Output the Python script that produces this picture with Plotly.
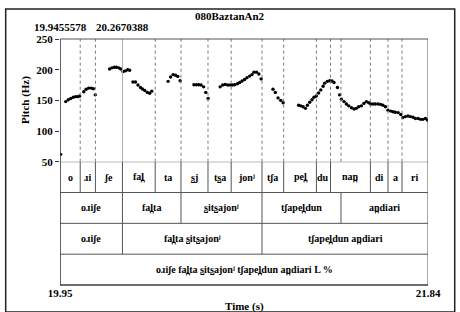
import plotly.graph_objects as go

# ---------------- data ----------------
T_START = 19.9455578
T_CURSOR = 20.2670388
T_END = 21.84
START_LABEL = "19.95"
END_LABEL = "21.84"
TITLE = "080BaztanAn2"
X_TITLE = "Time (s)"
Y_TITLE = "Pitch (Hz)"

PITCH_TICKS = [50, 100, 150, 200, 250]

TIME = [19.949, 19.975, 19.988, 20.001, 20.014, 20.026, 20.037, 20.047,
        20.068, 20.080, 20.093, 20.106, 20.117, 20.127,
        20.201, 20.213, 20.225, 20.236, 20.248, 20.258,
        20.270, 20.282, 20.294, 20.304, 20.321, 20.334, 20.347, 20.360, 20.370, 20.382, 20.395, 20.407, 20.418,
        20.502, 20.515, 20.528, 20.540, 20.552, 20.564,
        20.635, 20.648, 20.660, 20.672, 20.685, 20.696, 20.708,
        20.770, 20.783, 20.796, 20.809, 20.822,
        20.833, 20.845, 20.859, 20.871, 20.883, 20.896, 20.908, 20.922, 20.934, 20.944, 20.957, 20.969, 20.981,
        21.042, 21.054, 21.068, 21.082, 21.094,
        21.174, 21.185, 21.197, 21.209, 21.219, 21.231, 21.243, 21.253, 21.265, 21.277, 21.288, 21.300, 21.308,
        21.322, 21.334, 21.346, 21.356, 21.374, 21.385, 21.394, 21.408, 21.420, 21.432, 21.446, 21.459, 21.471,
        21.483, 21.497, 21.510, 21.523, 21.535, 21.545, 21.557, 21.569, 21.583, 21.596, 21.608, 21.621, 21.634,
        21.648, 21.660, 21.672, 21.686, 21.700, 21.711, 21.724, 21.737, 21.749, 21.763, 21.775, 21.789, 21.802,
        21.814, 21.827, 21.837]
PITCH = [62, 148, 151, 153, 155, 156, 156, 157,
         164, 168, 170, 170, 169, 159,
         201, 203, 204, 204, 203, 201,
         197, 198, 200, 199, 180, 180, 175, 171, 168.5, 166, 163, 161.5, 165,
         181, 188, 192, 191, 189, 182,
         175.5, 175.5, 175.5, 175, 172, 163, 153,
         172, 175, 176, 175, 175,
         175, 175.5, 177, 179, 181.5, 184, 187, 189.5, 192, 196, 196, 193, 185,
         168, 163, 154, 150, 146,
         142, 141, 139.5, 137, 142, 147, 151, 155, 157, 162, 167, 173, 178,
         181, 182, 181.5, 179, 171, 159, 152, 148, 144, 141, 138, 136, 137,
         139.5, 141, 145, 148, 146, 144, 144, 144, 144, 143.5, 142, 139.5, 134,
         132.5, 131.5, 130.5, 130, 127, 122, 123.5, 124.5, 123.5, 122.5, 120.5, 120.5, 119,
         119, 120.5, 118]

SYL_BOUNDS = [20.0496, 20.1278, 20.2670388, 20.4356, 20.5684, 20.7074, 20.8268,
              20.9854, 21.0971, 21.2655, 21.3381, 21.5435, 21.6341, 21.7061]
SYL_LABELS = ["o", "ɹi", "ʃe", "fal̪", "ta", "s̺j", "ts̺a", "jonʲ", "tʃa",
              "pel̪", "du", "nan̪", "di", "a", "ri"]
WORD_BOUNDS = [20.2670388, 20.5684, 20.9854, 21.3921]
WORD_LABELS = ["oɹiʃe", "fal̪ta", "s̺its̺ajonʲ", "tʃapel̪dun", "an̪diari"]
PHRASE_BOUNDS = [20.2670388, 20.9854]
PHRASE_LABELS = ["oɹiʃe", "fal̪ta s̺its̺ajonʲ", "tʃapel̪dun an̪diari"]
UTT_BOUNDS = []
UTT_LABELS = ["oɹiʃe fal̪ta s̺its̺ajonʲ tʃapel̪dun an̪diari L %"]

TIERS = [(SYL_BOUNDS, SYL_LABELS), (WORD_BOUNDS, WORD_LABELS),
         (PHRASE_BOUNDS, PHRASE_LABELS), (UTT_BOUNDS, UTT_LABELS)]

# ---------------- figure ----------------
FONT = "Liberation Serif, Times New Roman, serif"
LINE = "#555555"
SPLIT = 0.5012


def f(size=11, bold=True):
    return dict(family=FONT, size=size, color="black", weight="bold" if bold else "normal")


fig = go.Figure()
fig.add_trace(go.Scatter(
    x=TIME, y=PITCH, mode="markers", xaxis="x", yaxis="y",
    marker=dict(size=3.4, color="black"), hoverinfo="skip", showlegend=False))

shapes = []
annotations = []

# dotted boundary lines in pitch panel (union of all tier boundaries)
all_bounds = sorted(set(SYL_BOUNDS) | set(WORD_BOUNDS) | set(PHRASE_BOUNDS))
for b in all_bounds:
    if b == T_CURSOR:
        shapes.append(dict(type="line", xref="x", yref="y", x0=b, x1=b, y0=50, y1=250,
                           line=dict(color="#aaaaaa", width=1)))
    else:
        shapes.append(dict(type="line", xref="x", yref="y", x0=b, x1=b, y0=50, y1=250,
                           line=dict(color="#777777", width=1, dash="dot")))

# tiers
n = len(TIERS)
for i, (bounds, labels) in enumerate(TIERS):
    top = n - i
    bot = top - 1
    edges = [T_START] + list(bounds) + [T_END]
    for b in bounds:
        shapes.append(dict(type="line", xref="x", yref="y2", x0=b, x1=b, y0=bot, y1=top,
                           line=dict(color=LINE, width=1)))
    for j, lab in enumerate(labels):
        annotations.append(dict(xref="x", yref="y2", x=(edges[j] + edges[j + 1]) / 2,
                                y=bot + 0.5, text=lab, showarrow=False, font=f(10)))
    shapes.append(dict(type="line", xref="x", yref="y2", x0=T_START, x1=T_END, y0=top, y1=top,
                       line=dict(color=LINE, width=1)))

# plot frame
shapes.append(dict(type="rect", xref="x", yref="paper", x0=T_START, x1=T_END, y0=0, y1=1,
                   line=dict(color=LINE, width=1)))
shapes.append(dict(type="line", xref="x", yref="paper", x0=T_START, x1=T_START, y0=0, y1=1,
                   line=dict(color="#333333", width=1.2)))
shapes.append(dict(type="line", xref="x", yref="paper", x0=T_START, x1=T_END, y0=0, y1=0,
                   line=dict(color="#333333", width=1.2)))

# outer border
shapes.append(dict(type="rect", xref="paper", yref="paper", x0=-0.1476, x1=1.0726,
                   y0=-0.11, y1=1.122, line=dict(color="#222222", width=1.5)))

# top time labels
for t in [T_START, T_CURSOR]:
    annotations.append(dict(xref="x", yref="paper", x=t, y=1, yanchor="bottom", yshift=4,
                            text=f"{t:.7f}", showarrow=False, font=f(11)))

# title and axis titles
annotations.append(dict(xref="paper", yref="paper", x=0.4612, y=1.0935, yanchor="middle",
                        text=TITLE, showarrow=False, font=f(11)))
annotations.append(dict(xref="paper", yref="paper", x=0.5, y=-0.0894, yanchor="middle",
                        text=X_TITLE, showarrow=False, font=f(11)))
annotations.append(dict(xref="paper", yref="paper", x=-0.095, y=0.752, xanchor="center",
                        yanchor="middle", textangle=-90, text=Y_TITLE, showarrow=False,
                        font=f(11)))

fig.update_layout(
    width=460, height=312,
    margin=dict(l=60, r=32, t=39, b=27, autoexpand=False),
    paper_bgcolor="white", plot_bgcolor="white",
    font=f(11),
    xaxis=dict(domain=[0, 1], range=[T_START, T_END], anchor="y2", automargin=False,
               tickvals=[T_START, T_END], ticktext=[START_LABEL, END_LABEL],
               ticks="", showgrid=False, zeroline=False, showline=False,
               tickfont=f(11)),
    yaxis=dict(domain=[SPLIT, 1], range=[50, 250], tickvals=PITCH_TICKS, automargin=False,
               ticks="outside", ticklen=4, tickcolor="#333333",
               showgrid=False, zeroline=False, showline=False,
               tickfont=f(11)),
    yaxis2=dict(domain=[0, SPLIT], range=[0, n], showticklabels=False, ticks="",
                automargin=False, showgrid=False, zeroline=False, showline=False),
    shapes=shapes, annotations=annotations, showlegend=False,
)

fig.write_html("out.html", config={"displayModeBar": False},
               post_script="document.body.style.margin='0';")
